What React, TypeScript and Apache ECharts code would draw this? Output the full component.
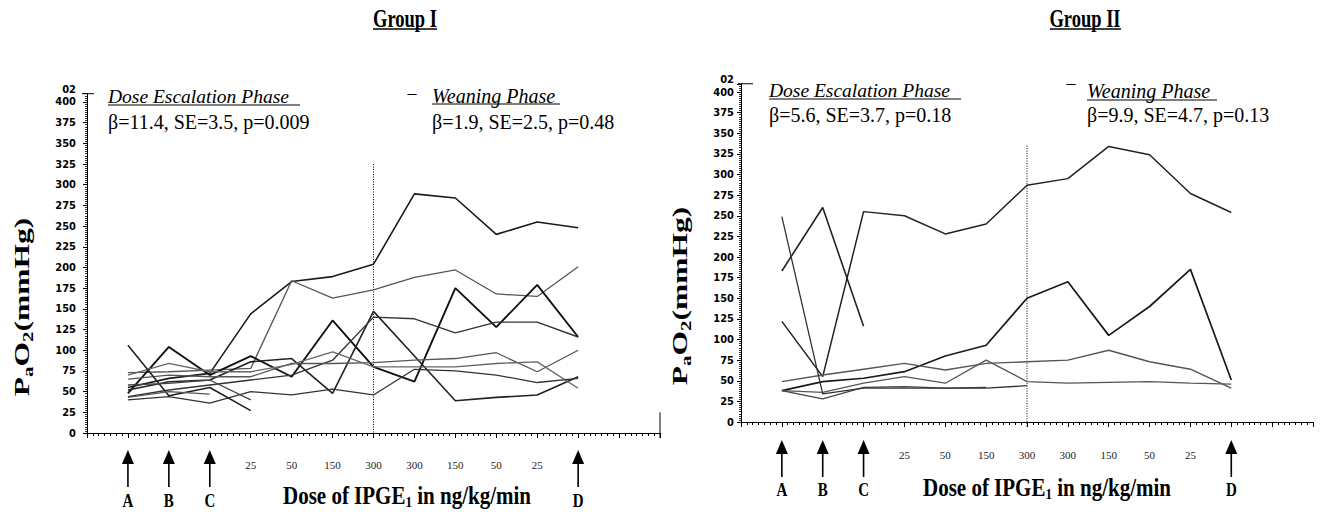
import { useEffect, useRef } from 'react';
import * as echarts from 'echarts';

// Dose axis positions 0..14 : 1=A, 2=B, 3=C, 4..11 = dose steps, 12=D
const doseTickLabels = ['', '', '', '', '25', '50', '150', '300', '300', '150', '50', '25', '', '', ''];
const arrowPositions = [1, 2, 3, 12];
const arrowLetters = ['A', 'B', 'C', 'D'];
const yMax = 410;
const yTopLabel = '02';
const dividerPosition = 7;
const dividerTopGroup1 = 325;
const dividerTopGroup2 = 335;

// Group I — PaO2 values at positions 1..12 (null = no measurement)
const g1a = [55, 66, 72, 144, 183, 189, 204, 289, 284, 240, 255, 248];
const g1b = [73, 74, 76, 78, 184, 163, 173, 188, 197, 168, 165, 201];
const g1c = [48, 104, 70, 93, 68, 136, 80, 62, 175, 128, 179, 116];
const g1d = [52, 62, 64, 86, 90, 48, 147, 93, 39, 43, 46, 68];
const g1e = [44, 52, 58, 64, 70, 88, 140, 138, 121, 134, 134, 116];
const g1f = [65, 70, 68, 68, 84, 84, 85, 88, 90, 97, 74, 100];
const g1g = [70, 84, 74, 74, 83, 98, 80, 80, 80, 84, 86, 54];
const g1h = [40, 44, 36, 50, 46, 53, 46, 77, 75, 70, 61, 66];
const g1i = [106, 45, 55, 27, null, null, null, null, null, null, null, null];
const g1j = [58, 60, 64, 40, null, null, null, null, null, null, null, null];
const g1k = [43, 50, 47, null, null, null, null, null, null, null, null, null];

// Group II
const g2a = [183, 260, 116, null, null, null, null, null, null, null, null, null];
const g2b = [122, 55, 255, 250, 228, 240, 287, 295, 334, 324, 277, 254];
const g2c = [38, 49, 53, 61, 80, 93, 150, 170, 105, 140, 185, 51];
const g2d = [49, 57, 64, 71, 63, 71, 73, 75, 87, 73, 64, 41];
const g2e = [38, 36, 47, 55, 47, 75, 49, 47, 48, 49, 47, 46];
const g2f = [38, 28, 42, 43, 41, 42, null, null, null, null, null, null];
const g2g = [249, 34, 41, 41, 41, 41, 44, null, null, null, null, null];

const group1 = [g1a, g1b, g1c, g1d, g1e, g1f, g1g, g1h, g1i, g1j, g1k];
const group2 = [g2a, g2b, g2c, g2d, g2e, g2f, g2g];

const g1Styles: [string, number][] = [
  ['#1a1a1a', 1.6], ['#555', 1.3], ['#111', 1.9], ['#222', 1.6], ['#333', 1.4], ['#555', 1.3],
  ['#666', 1.3], ['#333', 1.3], ['#222', 1.6], ['#444', 1.3], ['#555', 1.2],
];
const g2Styles: [string, number][] = [
  ['#222', 1.6], ['#222', 1.5], ['#1a1a1a', 1.7], ['#555', 1.4], ['#555', 1.3], ['#444', 1.3], ['#333', 1.3],
];

const SERIF = "'Liberation Serif', 'Times New Roman', serif";
const NARROW = "'Liberation Sans Narrow', 'DejaVu Sans Condensed', 'Liberation Sans', sans-serif";

function fontStr(size: number, weight = 'normal', style = 'normal') {
  return `${style} ${weight} ${size}px ${SERIF}`;
}

function toPairs(arr: (number | null)[]) {
  const out: number[][] = [];
  arr.forEach((v, i) => {
    if (v !== null) out.push([i + 1, v]);
  });
  return out;
}

function xAxisCfg(gridIndex: number, offset: number) {
  return {
    type: 'value', gridIndex, min: 0, max: 14, interval: 1, offset,
    axisLine: { show: true, lineStyle: { color: '#000', width: 1 } },
    axisTick: { show: true, length: 5, lineStyle: { color: '#000', width: 1 } },
    minorTick: { show: true, splitNumber: 7, length: 3, lineStyle: { color: '#000', width: 1 } },
    splitLine: { show: false },
    minorSplitLine: { show: false },
    axisLabel: {
      margin: 21, fontFamily: SERIF, fontSize: 11, color: '#222',
      formatter: (v: number) => doseTickLabels[Math.round(v)] || '',
    },
  };
}

function yAxisCfg(gridIndex: number, offset: number, margin: number) {
  return {
    type: 'value', gridIndex, min: 0, max: yMax, interval: 25, offset,
    axisLine: { show: true, lineStyle: { color: '#000', width: 1 } },
    axisTick: { show: true, length: 4, lineStyle: { color: '#000', width: 1 } },
    minorTick: { show: true, splitNumber: 10, length: 2, lineStyle: { color: '#000', width: 0.8 } },
    splitLine: { show: false },
    minorSplitLine: { show: false },
    axisLabel: {
      margin, fontFamily: NARROW, fontWeight: 'bold', fontSize: 11, color: '#000',
      showMaxLabel: false,
      formatter: (v: number) => (v >= yMax ? '' : String(v)),
    },
  };
}

export default function App() {
  const ref = useRef<HTMLDivElement>(null);
  useEffect(() => {
    if (!ref.current) return;
    const chart = echarts.init(ref.current, null, { renderer: 'svg' });
    const series: any[] = [];
    group1.forEach((arr, i) => {
      series.push({
        type: 'line', xAxisIndex: 0, yAxisIndex: 0, data: toPairs(arr), showSymbol: false,
        symbol: 'none', silent: true,
        lineStyle: { color: g1Styles[i][0], width: g1Styles[i][1] },
      });
    });
    group2.forEach((arr, i) => {
      series.push({
        type: 'line', xAxisIndex: 1, yAxisIndex: 1, data: toPairs(arr), showSymbol: false,
        symbol: 'none', silent: true,
        lineStyle: { color: g2Styles[i][0], width: g2Styles[i][1] },
      });
    });

    chart.setOption({
      animation: false,
      backgroundColor: '#fff',
      grid: [
        { left: 87, top: 93.7, width: 573, height: 339.3 },
        { left: 741, top: 83.75, width: 572, height: 338.25 },
      ],
      xAxis: [xAxisCfg(0, 5), xAxisCfg(1, 6)],
      yAxis: [yAxisCfg(0, 5, 6), yAxisCfg(1, 3, 4)],
      series,
    });

    const graphics: any[] = [];
    const text = (x: number, y: number, t: string, font: string, align = 'left', extra: any = {}) => {
      graphics.push({
        type: 'text', x, y, silent: true, ...extra,
        style: {
          text: t, fill: '#000', font, align, verticalAlign: 'middle',
        },
      });
    };
    const line = (x1: number, y1: number, x2: number, y2: number, w = 1, dash: any = null) => {
      graphics.push({
        type: 'line', silent: true, shape: { x1, y1, x2, y2 },
        style: { stroke: '#000', lineWidth: w, lineDash: dash },
      });
    };

    const panels = [
      {
        gi: 0, title: 'Group I', titleX: 405, titleY: 18, ul: [373, 437, 29],
        esc: [108, 96, 300, 105], escStat: 'β=11.4, SE=3.5, p=0.009', statY: 122,
        dash: [412, 93], wean: [432, 96, 560, 104], weanStat: 'β=1.9, SE=2.5, p=0.48',
        yTitle: [23, 307], xTitle: [407, 496], arrow: [450, 463, 487], letterY: 501,
        dividerTop: dividerTopGroup1, axisY: 438, yAxisX: 82, labelMargin: 6, bracket: 12, rightEnd: true,
      },
      {
        gi: 1, title: 'Group II', titleX: 1085, titleY: 18, ul: [1050, 1121, 29],
        esc: [769, 90, 961, 99], escStat: 'β=5.6, SE=3.7, p=0.18', statY: 115,
        dash: [1071, 83], wean: [1087, 91, 1217, 100], weanStat: 'β=9.9, SE=4.7, p=0.13',
        yTitle: [681, 296], xTitle: [1047, 488], arrow: [440, 453, 477], letterY: 490,
        dividerTop: dividerTopGroup2, axisY: 428, yAxisX: 738, labelMargin: 4, bracket: 15, rightEnd: false,
      },
    ];

    panels.forEach((p) => {
      text(p.titleX, p.titleY, p.title, fontStr(18.5, 'bold'), 'center', { scaleY: 1.4 });
      line(p.ul[0], p.ul[2], p.ul[1], p.ul[2], 1.3);
      text(p.esc[0], p.esc[1], 'Dose Escalation Phase', fontStr(19.5, 'normal', 'italic'));
      line(p.esc[0], p.esc[3], p.esc[2], p.esc[3], 1);
      text(p.esc[0], p.statY, p.escStat, fontStr(20));
      text(p.dash[0], p.dash[1], '–', fontStr(18), 'center');
      text(p.wean[0], p.wean[1], 'Weaning Phase', fontStr(20, 'normal', 'italic'));
      line(p.wean[0], p.wean[3], p.wean[2], p.wean[3], 1);
      text(p.wean[0], p.statY, p.weanStat, fontStr(20));

      // y title rotated (stretched along its length like the original)
      graphics.push({
        type: 'text', x: p.yTitle[0], y: p.yTitle[1], rotation: Math.PI / 2, scaleX: 1.5, silent: true,
        style: {
          text: '{b|P}{s|a}{b|O}{s|2}{b|(mmHg)}',
          align: 'center', verticalAlign: 'middle',
          fill: '#000',
          rich: {
            b: { font: fontStr(21, 'bold'), lineHeight: 22, verticalAlign: 'top' },
            s: { font: fontStr(14, 'bold'), lineHeight: 24, verticalAlign: 'bottom' },
          },
        },
      });
      // x title
      graphics.push({
        type: 'text', x: p.xTitle[0], y: p.xTitle[1], scaleY: 1.2, silent: true,
        style: {
          text: '{b|Dose of IPGE}{s|1}{b| in ng/kg/min}',
          align: 'center', verticalAlign: 'middle',
          fill: '#000',
          rich: {
            b: { font: fontStr(21, 'bold'), lineHeight: 22, verticalAlign: 'top' },
            s: { font: fontStr(13, 'bold'), lineHeight: 23, verticalAlign: 'bottom' },
          },
        },
      });

      // divider (dotted)
      const top = chart.convertToPixel({ gridIndex: p.gi }, [dividerPosition, p.dividerTop]) as number[];
      line(top[0], top[1], top[0], p.axisY, 1, [1, 1.5]);

      // top bracket of y axis and its stray top label
      const yTop = chart.convertToPixel({ gridIndex: p.gi }, [0, yMax]) as number[];
      line(p.yAxisX, yTop[1], p.yAxisX + p.bracket, yTop[1], 1);
      graphics.push({
        type: 'text', x: p.yAxisX - p.labelMargin, y: yTop[1] - 4, silent: true,
        style: { text: yTopLabel, fill: '#000', font: `bold 11px ${NARROW}`, align: 'right', verticalAlign: 'middle' },
      });

      if (p.rightEnd) {
        const end = chart.convertToPixel({ gridIndex: p.gi }, [14, 25]) as number[];
        line(end[0], end[1], end[0], p.axisY, 1);
      }

      arrowPositions.forEach((pos, k) => {
        const pt = chart.convertToPixel({ gridIndex: p.gi }, [pos, 0]) as number[];
        const x = pt[0];
        const [tip, base, bottom] = p.arrow;
        graphics.push({
          type: 'polygon', silent: true,
          shape: { points: [[x, tip], [x - 6, base + 1], [x + 6, base + 1]] },
          style: { fill: '#000' },
        });
        line(x, base, x, bottom, 1.6);
        text(x, p.letterY, arrowLetters[k], fontStr(15, 'bold'), 'center', { scaleY: 1.2 });
      });
    });

    chart.setOption({ graphic: graphics });
    return () => chart.dispose();
  }, []);
  return <div ref={ref} style={{ position: 'fixed', left: 0, top: 0, width: 1326, height: 512, background: '#fff' }} />;
}
